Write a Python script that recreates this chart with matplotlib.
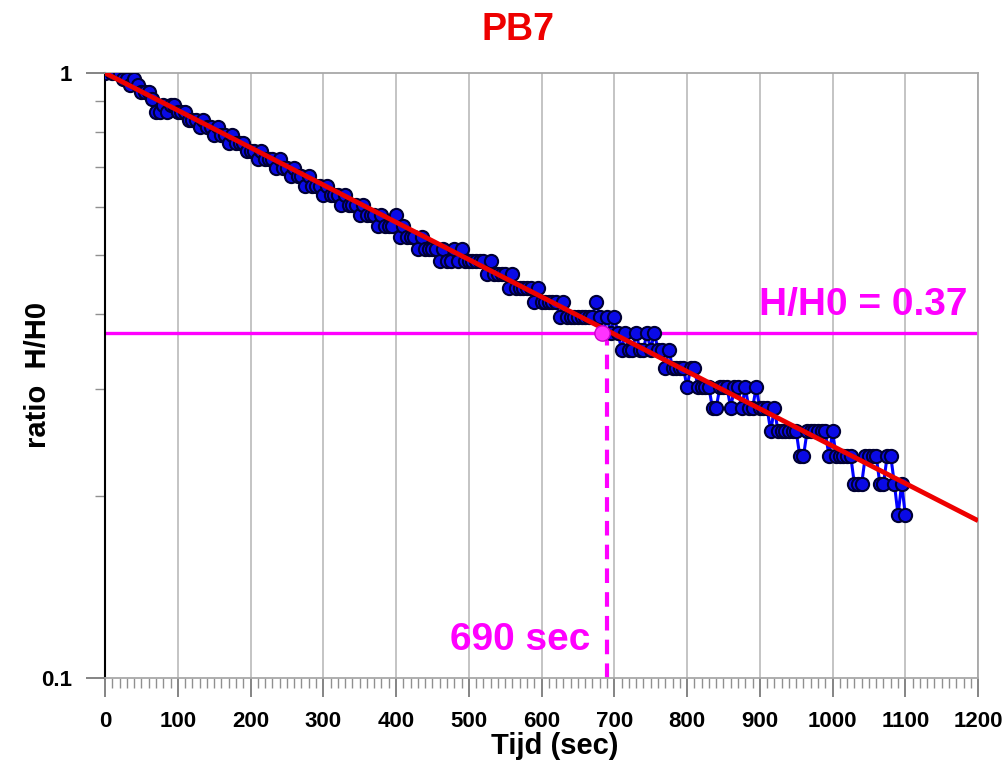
import numpy as np
import matplotlib
matplotlib.use("Agg")
import matplotlib.pyplot as plt
from matplotlib.ticker import FixedLocator, MultipleLocator, NullFormatter

plt.rcParams['font.family'] = ['Liberation Sans', 'DejaVu Sans']
plt.rcParams['font.weight'] = 'bold'

# slug test PB7: water level H (readout units) every 5 s, H0 = 43
H0 = 43
t_sec = np.arange(0, 1105, 5)
h_read = [
    43, 44, 43, 43, 43, 42, 42, 41, 42, 41, 40, 40, 40, 39, 37, 37, 38, 37, 38, 38,
    37, 37, 37, 36, 36, 36, 35, 36, 35, 35, 34, 35, 34, 34, 33, 34, 33, 33, 33, 32,
    32, 32, 31, 32, 31, 31, 31, 30, 31, 30, 30, 29, 30, 29, 29, 28, 29, 28, 28, 28,
    27, 28, 27, 27, 27, 26, 27, 26, 26, 26, 25, 26, 25, 25, 25, 24, 25, 24, 24, 24,
    25, 23, 24, 23, 23, 23, 22, 23, 22, 22, 22, 22, 21, 22, 21, 21, 22, 21, 22, 21,
    21, 21, 21, 21, 21, 20, 21, 20, 20, 20, 20, 19, 20, 19, 19, 19, 19, 19, 18, 19,
    18, 18, 18, 18, 18, 17, 18, 17, 17, 17, 17, 17, 17, 17, 17, 18, 17, 16, 17, 16,
    17, 16, 15, 16, 15, 15, 16, 15, 15, 16, 15, 16, 15, 15, 14, 15, 14, 14, 14, 14,
    13, 14, 14, 13, 13, 13, 13, 12, 12, 13, 13, 13, 12, 13, 13, 12, 13, 12, 12, 13,
    12, 12, 12, 11, 12, 11, 11, 11, 11, 11, 11, 10, 10, 11, 11, 11, 11, 11, 11, 10,
    11, 10, 10, 10, 10, 10, 9, 9, 9, 10, 10, 10, 10, 9, 9, 10, 10, 9, 8, 9,
    8,
]
ratio = np.array(h_read) / H0

# fitted exponential decay (straight on log axis)
fit_t = [0, 1200]
fit_ratio = [1.0, 0.182]

# characteristic time: H/H0 = 0.37
h_level = 0.372
t_char = 690
t_point = 683

fig = plt.figure(figsize=(10.05, 7.65), dpi=100)
ax = fig.add_axes([0.1045, 0.1137, 0.8687, 0.7909])

ax.set_yscale('log')
ax.set_xlim(0, 1200)
ax.set_ylim(0.1, 1)

ax.xaxis.set_major_locator(MultipleLocator(100))
ax.xaxis.set_minor_locator(MultipleLocator(10))
ax.yaxis.set_major_locator(FixedLocator([0.1, 1]))
ax.yaxis.set_minor_locator(FixedLocator([0.2, 0.3, 0.4, 0.5, 0.6, 0.7, 0.8, 0.9]))
ax.yaxis.set_minor_formatter(NullFormatter())
ax.set_yticklabels(['0.1', '1'])

ax.grid(True, axis='x', which='major', color='#c4c4c4', lw=1.4)
ax.set_axisbelow(True)

ax.tick_params(axis='both', which='major', direction='out', length=14,
               width=1.2, color='#707070', labelsize=16, pad=10)
ax.tick_params(axis='both', which='minor', direction='out', length=7,
               width=1.0, color='#909090')
for s in ['top', 'right', 'bottom']:
    ax.spines[s].set_color('#a8a8a8')
    ax.spines[s].set_linewidth(1.3)
ax.spines['left'].set_color('black')
ax.spines['left'].set_linewidth(1.5)

ax.axhline(h_level, color='#ff00ff', lw=2.4, zorder=2)
ax.plot([t_char, t_char], [0.1, h_level], color='#ff00ff', lw=3,
        ls=(0, (3.5, 2.2)), zorder=2)

ax.plot(t_sec, ratio, '-o', color='#0000ff', lw=2.2, ms=9.5,
        mfc='#0a0ae6', mec='#000033', mew=1.5, zorder=3)
ax.plot(fit_t, fit_ratio, color='#ee0000', lw=3.5, zorder=4, solid_capstyle='butt')
ax.plot([t_point], [h_level], 'o', ms=11, mfc='#ff33ff', mec='#cc00cc',
        mew=1, zorder=5)

ax.text(1186, 0.413, 'H/H0 = 0.37', color='#ff00ff', fontsize=28,
        fontweight='bold', ha='right', va='center')
ax.text(667, 0.1155, '690 sec', color='#ff00ff', fontsize=28,
        fontweight='bold', ha='right', va='center')

fig.text(0.515, 1 - 30 / 765, 'PB7', color='#ee0000', fontsize=27,
         fontweight='bold', ha='center', va='center')
fig.text(555 / 1005, 1 - 746 / 765, 'Tijd (sec)', fontsize=21,
         fontweight='bold', ha='center', va='center')
fig.text(38 / 1005, 1 - 375 / 765, 'ratio  H/H0', fontsize=21,
         fontweight='bold', ha='center', va='center', rotation=90)

plt.savefig('out.png', dpi=100)
